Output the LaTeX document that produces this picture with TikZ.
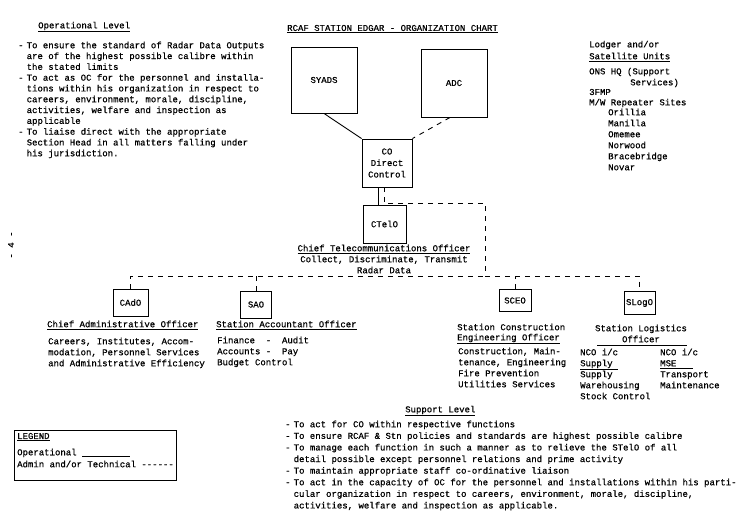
\documentclass[tikz,border=0pt]{standalone}
\usepackage{fontspec}
\setmainfont{Liberation Mono}[FakeBold=0.6]
\newcommand{\bl}{\makebox[8.5pt][l]{-}}
\newcommand{\ind}{\hspace*{8.5pt}}
\begin{document}
\begin{tikzpicture}[x=1pt,y=-1pt,
  font=\fontsize{9}{11}\selectfont,
  box/.style={draw,line width=0.9pt,inner sep=0pt,align=center},
  txt/.style={inner sep=0pt,anchor=west},
  blk/.style={inner sep=0pt,anchor=north west,align=left},
  conn/.style={line width=0.9pt},
  dconn/.style={line width=0.9pt,dash pattern=on 5pt off 5pt}]
\useasboundingbox[fill=white] (0,0) rectangle (750,512);

% Title
\node[txt] (title) at (287,29) {\underline{RCAF STATION EDGAR - ORGANIZATION CHART}};

% Operational level
\node[txt] (optitle) at (38,27) {\underline{Operational Level}};
\node[blk,font=\fontsize{9}{10.8}\selectfont] (optext) at (18,41.5) {%
\bl To ensure the standard of Radar Data Outputs\\
\ind are of the highest possible calibre within\\
\ind the stated limits\\
\bl To act as OC for the personnel and installa-\\
\ind tions within his organization in respect to\\
\ind careers, environment, morale, discipline,\\
\ind activities, welfare and inspection as\\
\ind applicable\\
\bl To liaise direct with the appropriate\\
\ind Section Head in all matters falling under\\
\ind his jurisdiction.};

% Lodger units
\node[txt] (lod1) at (589,45) {Lodger and/or};
\node[txt] (lod2) at (589,57) {\underline{Satellite Units}};
\node[txt] (lod3) at (589,72) {ONS HQ (Support};
\node[txt] (lod4) at (630,83) {Services)};
\node[txt] (lod5) at (589,92) {3FMP};
\node[txt] (lod6) at (589,103) {M/W Repeater Sites};
\node[blk] (lod7) at (608,108.5) {Orillia\\Manilla\\Omemee\\Norwood\\Bracebridge\\Novar};

% Page number
\node[inner sep=0pt,rotate=90] (pageno) at (11,245) {- 4 -};

% Boxes
\node[box,minimum width=66,minimum height=66] (syads) at (324,80) {SYADS};
\node[box,minimum width=66,minimum height=68] (adc) at (454,83) {ADC};
\node[box,minimum width=50,minimum height=48,font=\fontsize{9}{11.5}\selectfont] (co) at (387,163) {CO\\Direct\\Control};
\node[box,minimum width=43,minimum height=38] (ctelo) at (384.5,224) {CTelO};
\node[box,minimum width=35,minimum height=27] (cado) at (130.5,302.5) {CAdO};
\node[box,minimum width=31,minimum height=27] (sao) at (256,304.5) {SAO};
\node[box,minimum width=32,minimum height=22] (sceo) at (515,300.5) {SCEO};
\node[box,minimum width=31,minimum height=23] (slogo) at (639.5,303) {SLogO};

% Connectors
\draw[conn] (syads.south) -- (co.north west);
\draw[dconn] ([xshift=-4pt]adc.south) -- (co.north east);
\draw[conn] ([xshift=-6pt]ctelo.north) -- ([xshift=-6pt]ctelo.north |- co.south);
\coordinate (turn) at (485,203);
\coordinate (busr) at (485,276);
\draw[dconn] ([xshift=-3pt]co.south) |- (turn) -- (busr);
\draw[dconn] (cado.north) |- (busr);
\draw[dconn] (busr) -| (slogo.north);
\draw[dconn] (sao.north) -- (sao.north |- busr);
\draw[dconn] (sceo.north) -- (sceo.north |- busr);

% CTelO label
\node[inner sep=0pt,anchor=north,align=center] (ctelolbl) at (384,244.5) {%
\underline{Chief Telecommunications Officer}\\Collect, Discriminate, Transmit\\Radar Data};

% CAdO label
\node[txt] (cadot) at (47,325) {\underline{Chief Administrative Officer}};
\node[blk] (cadox) at (48,337.5) {Careers, Institutes, Accom-\\modation, Personnel Services\\and Administrative Efficiency};

% SAO label
\node[txt] (saot) at (216,325) {\underline{Station Accountant Officer}};
\node[blk] (saox) at (217,336.5) {Finance~~-~~Audit\\Accounts~-~~Pay\\Budget Control};

% SCEO label
\node[txt] (sceot1) at (457,327) {Station Construction};
\node[txt] (sceot2) at (457,339) {\underline{Engineering Officer}};
\node[blk] (sceox) at (458,347.5) {Construction, Main-\\tenance, Engineering\\Fire Prevention\\Utilities Services};

% SLogO label
\node[inner sep=0pt,anchor=north,align=center] (slogot) at (641,324.5) {Station Logistics\\Officer};
\draw[conn] (597,345) -- (687,345);
\node[blk] (slogoa) at (580,348.5) {NCO i/c\\\underline{Supply\ }\\Supply\\Warehousing\\Stock Control};
\node[blk] (slogob) at (660,348.5) {NCO i/c\\\underline{MSE\ \ \ }\\Transport\\Maintenance};

% Legend
\node[draw,line width=0.9pt,minimum width=162,minimum height=50,inner sep=0pt] (legend) at (95,455) {};
\node[txt] (legt) at (17,437) {\underline{LEGEND}};
\node[txt] (lega) at (17,453) {Operational \underline{\hspace{48pt}}};
\node[txt] (legb) at (17,464) {Admin and/or Technical {-}{-}{-}{-}{-}{-}};

% Support level
\node[txt] (suptitle) at (405,411) {\underline{Support Level}};
\node[blk,font=\fontsize{9}{11.6}\selectfont] (suptext) at (285,420.5) {%
\bl To act for CO within respective functions\\
\bl To ensure RCAF \& Stn policies and standards are highest possible calibre\\
\bl To manage each function in such a manner as to relieve the STelO of all\\
\ind detail possible except personnel relations and prime activity\\
\bl To maintain appropriate staff co-ordinative liaison\\
\bl To act in the capacity of OC for the personnel and installations within his parti-\\
\ind cular organization in respect to careers, environment, morale, discipline,\\
\ind activities, welfare and inspection as applicable.};
\end{tikzpicture}
\end{document}
